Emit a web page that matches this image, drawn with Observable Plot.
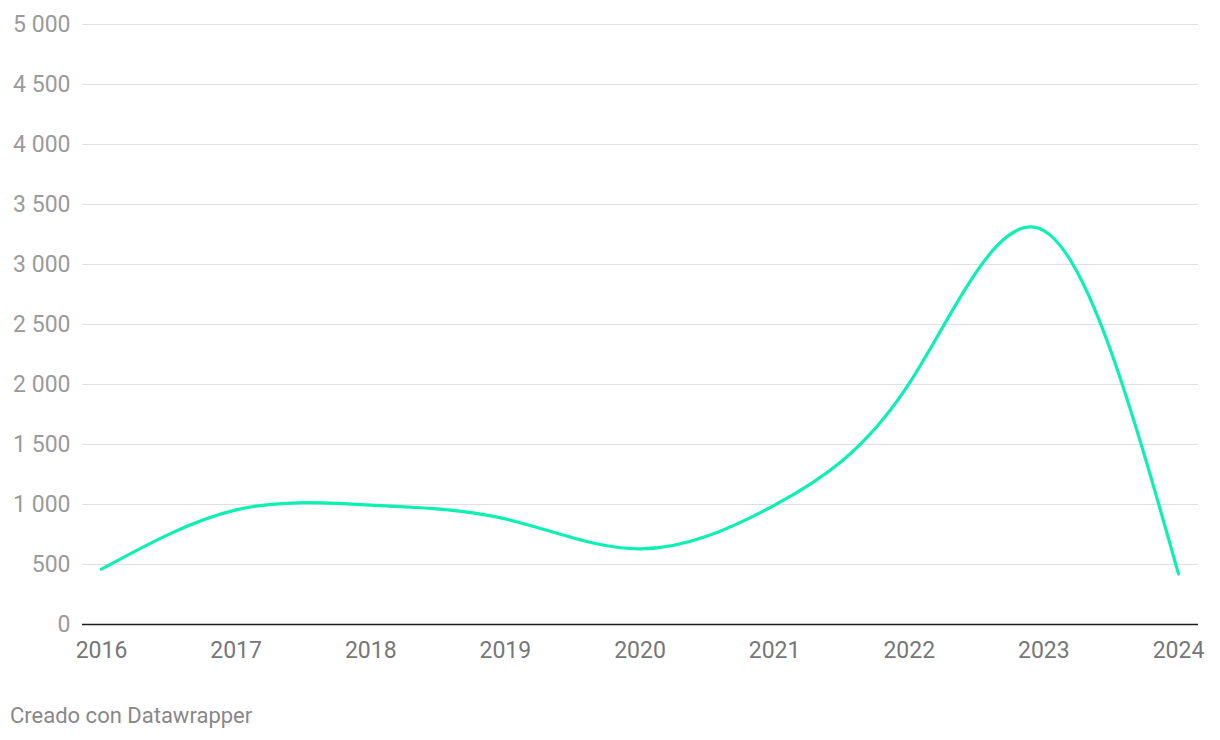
<!DOCTYPE html>
<html>
<head>
<meta charset="utf-8">
<script src="https://cdn.jsdelivr.net/npm/d3@7"></script>
<script src="https://cdn.jsdelivr.net/npm/@observablehq/plot@0.6"></script>
<style>
  html, body { margin: 0; padding: 0; background: #fff; }
  body { width: 1220px; height: 740px; overflow: hidden; font-family: Roboto, "Noto Sans", sans-serif; }
  #chart { position: absolute; left: 0; top: 0; }
  #caption { position: absolute; left: 10px; top: 705px; font-size: 22px; line-height: 22px; color: #888; font-family: Roboto, sans-serif; }
</style>
</head>
<body>
<div id="chart"></div>
<div id="caption">Creado con Datawrapper</div>
<script>
const years = [2016, 2017, 2018, 2019, 2020, 2021, 2022, 2023, 2024];
const values = [461, 955, 995, 880, 630, 995, 2010, 3283, 422];
const yTicks = [0, 500, 1000, 1500, 2000, 2500, 3000, 3500, 4000, 4500, 5000];

const data = years.map((year, i) => ({ year, value: values[i] }));
const fmt = d => d3.format(",")(d).replace(/,/g, " ");

const chart = Plot.plot({
  width: 1220,
  height: 680,
  marginTop: 24,
  marginBottom: 56,
  marginLeft: 82,
  marginRight: 22,
  style: { fontFamily: "Roboto, sans-serif", fontSize: "23px", background: "#fff" },
  x: { type: "linear", domain: [2016, 2024], insetLeft: 19, insetRight: 20 },
  y: { domain: [0, 5000] },
  marks: [
    Plot.ruleY(yTicks.filter(d => d > 0), { stroke: "#e0e0e0", strokeWidth: 1 }),
    Plot.axisY(yTicks, { tickSize: 0, tickPadding: 12, tickFormat: fmt, fill: "#9a9a9a", label: null, fontSize: 23 }),
    Plot.axisX(years, { tickSize: 0, tickPadding: 17, tickFormat: d => String(d), fill: "#777", label: null, fontSize: 23 }),
    Plot.ruleY([0], { stroke: "#1d1d1d", strokeWidth: 1.5 }),
    Plot.line(data, { x: "year", y: "value", curve: "natural", stroke: "#0cf0b4", strokeWidth: 3.2 })
  ]
});
document.getElementById("chart").appendChild(chart);
</script>
</body>
</html>
